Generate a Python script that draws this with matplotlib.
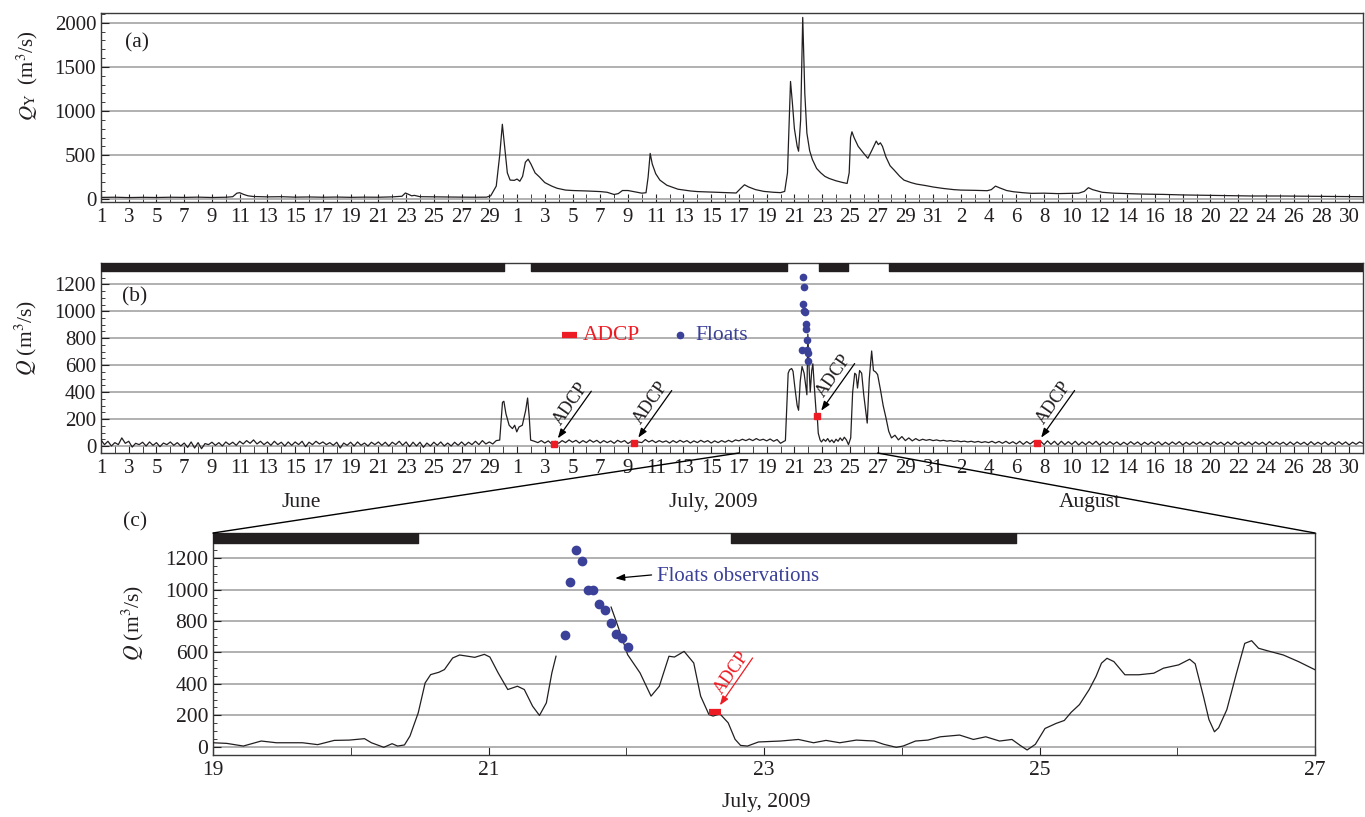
import numpy as np
import matplotlib
matplotlib.use("Agg")
import matplotlib.pyplot as plt
from matplotlib.patches import ConnectionPatch

plt.rcParams['font.family'] = ['Liberation Serif', 'DejaVu Serif']
plt.rcParams['mathtext.fontset'] = 'stix'

# ---- time axis of (a) and (b): days since 1 June 2009 ----
ab_ticks = list(range(0, 91, 2))
ab_ticklabels = ['1', '3', '5', '7', '9', '11', '13', '15', '17', '19', '21', '23', '25', '27', '29',
                 '1', '3', '5', '7', '9', '11', '13', '15', '17', '19', '21', '23', '25', '27', '29', '31',
                 '2', '4', '6', '8', '10', '12', '14', '16', '18', '20', '22', '24', '26', '28', '30']

# ---- (a) upstream discharge Q_Y ----
qy_day = [0, 1, 2, 3, 4, 5, 6, 7, 8, 9, 9.5, 9.8, 10.0, 10.3, 10.6, 11, 12, 13, 14, 15, 16, 17, 18, 19,
          20, 21, 21.7, 21.95, 22.2, 22.4, 22.6, 23, 24, 25, 26, 27, 27.8, 28.1, 28.5, 28.75, 28.94,
          29.1, 29.3, 29.5, 29.8, 30.0, 30.2, 30.4, 30.6, 30.8, 31.0, 31.3, 31.6, 32.0, 32.5, 32.9,
          33.5, 34, 35, 36, 36.5, 37.0, 37.3, 37.6, 38.0, 38.5, 39.0, 39.3, 39.45, 39.6, 39.75, 40.0,
          40.3, 40.8, 41.6, 42.5, 43.0, 44, 45, 45.8, 46.1, 46.4, 46.7, 47.2, 47.8, 48.5, 49.0, 49.3,
          49.5, 49.65, 49.72, 49.85, 50.0, 50.2, 50.3, 50.45, 50.6, 50.75, 50.9, 51.1, 51.3, 51.6,
          51.9, 52.2, 52.5, 53.0, 53.5, 53.8, 53.95, 54.05, 54.15, 54.3, 54.6, 55.0, 55.3, 55.6, 55.9,
          56.05, 56.2, 56.35, 56.6, 56.9, 57.2, 57.6, 57.9, 58.4, 58.8, 59.5, 60.0, 60.7, 61.5, 62.0,
          63.0, 63.9, 64.2, 64.5, 64.8, 65.3, 65.8, 66.5, 67.1, 68, 69, 70.0, 70.5, 70.9, 71.2, 71.5,
          72.2, 73, 74, 75, 76.6, 78, 80, 82, 83, 85, 87, 89, 91]
qy_val = [22, 24, 20, 23, 21, 24, 22, 25, 21, 24, 30, 70, 75, 55, 40, 32, 28, 30, 25, 27, 24, 26, 23, 25,
          24, 28, 35, 72, 55, 40, 45, 30, 28, 26, 25, 24, 25, 40, 150, 500, 850,
          600, 300, 218, 215, 230, 205, 260, 420, 455, 400, 300, 256, 190, 150, 125,
          105, 100, 95, 88, 80, 55, 65, 100, 100, 85, 70, 75, 250, 520, 400, 290,
          218, 160, 115, 95, 88, 82, 76, 72, 120, 165, 140, 110, 90, 80, 76, 90,
          300, 1000, 1335, 1100, 800, 600, 545, 900, 2060, 1200, 750, 550, 450, 350,
          300, 260, 237, 210, 190, 180, 300, 700, 765, 700, 600, 520, 465, 560, 660,
          620, 640, 600, 480, 380, 330, 260, 218, 190, 173, 155, 140, 124, 110, 105,
          102, 98, 110, 150, 130, 100, 86, 75, 68, 70, 65, 68, 70, 90, 132, 110,
          80, 70, 65, 60, 56, 50, 45, 40, 38, 38, 35, 32, 30]

# ---- (b) discharge Q, 6-hourly pieces and event pieces ----
b_june = [45, 10, 35, 0, 25, 10, 60, 20, 35, -8, 20, 10, 28, 0, 30, 5, 25, -5, 22, 10, 30, 5, 25, 0,
          22, -10, 30, -15, 25, -20, 18, 10, 28, 5, 25, 0, 30, 10, 28, 5, 35, 15, 40, 20, 45, 15, 35, 10,
          30, 5, 35, 10, 28, 0, 30, 5, 30, 10, 35, -5, 28, 10, 35, 15, 30, 10, 25, 5, 28, -15, 22, 5,
          28, 0, 30, 5, 22, 0, 28, 10, 30, 5, 28, 0, 28, 10, 35, 5, 30, -5, 28, 0, 28, -10, 22, 0,
          28, 5, 30, 0, 22, 0, 28, 5, 30, 5, 28, 10, 35, 10, 40, 15, 30, 15, 40]
ev1_day = [28.75, 28.95, 29.05, 29.2, 29.43, 29.67, 29.83, 29.98, 30.14, 30.38, 30.62, 30.76, 30.88, 30.98]
ev1_q = [44, 324, 332, 239, 154, 129, 154, 105, 141, 154, 263, 356, 215, 44]
b_july = [35, 25, 40,
          22, 38, 15, 35, 20, 40, 25, 45, 28, 42, 22, 40, 25, 45, 28, 42, 22, 40, 25, 38,
          20, 42, 28, 40, 18, 35, 15, 30, 25, 48, 30, 42, 25, 40, 28, 38, 22, 40, 25, 42,
          28, 40, 22, 38, 25, 42, 28, 40, 22, 38, 25, 40, 28, 42, 30, 45, 38, 50, 40, 52,
          40, 55, 42, 50, 38, 52, 35, 48, 20, 35]
ev2_day = [49.35, 49.45, 49.55, 49.65, 49.8, 49.9, 50.05, 50.2, 50.3, 50.42, 50.55, 50.7, 50.9, 50.97,
           51.04, 51.14, 51.25, 51.33, 51.45, 51.57, 51.65, 51.72, 51.85, 51.95, 52.1, 52.25, 52.4,
           52.55, 52.7, 52.85, 53.0, 53.15, 53.3, 53.45, 53.6, 53.75, 53.9, 54.06, 54.2, 54.35, 54.45,
           54.55, 54.7, 54.85, 55.0, 55.25, 55.4, 55.57, 55.7, 55.85, 56.0, 56.2, 56.4, 56.6, 56.8, 57.0]
ev2_q = [40, 300, 540, 565, 575, 555, 420, 300, 265, 480, 590, 540, 380, 830,
         620, 400, 560, 610, 420, 245, 215, 95, 45, 30, 50, 35, 55,
         30, 45, 25, 50, 35, 60, 40, 65, 45, 10, 60, 400, 540, 530,
         430, 560, 540, 380, 170, 500, 705, 560, 550, 530, 420, 300, 210, 110, 60]
b_aug = [80, 45, 70,
         40, 60, 38, 55, 40, 50, 42, 48, 40, 45, 38, 42, 36, 40, 34, 38, 32, 36, 30, 35,
         28, 34, 26, 32, 25, 35, 22, 34, 20, 35, 18, 32, 15, 35, 12, 33, 15, 35, 18, 35,
         10, 38, 12, 35, 8, 35, 10, 32, 12, 35, 8, 30, 10, 32, 12, 35, 8, 30, 10, 32,
         12, 30, 8, 28, 10, 32, 12, 30, 8, 28, 10, 30, 12, 32, 8, 28, 10, 30, 12, 32,
         8, 28, 10, 30, 12, 30, 8, 28, 10, 32, 12, 28, 8, 30, 10, 32, 12, 28, 8, 30,
         10, 30, 12, 28, 8, 32, 10, 30, 12, 28, 8, 30, 10, 30, 12, 28, 8, 32, 10, 28,
         12, 30, 8, 28, 10, 32, 12, 30, 8, 28, 12, 30, 20]

# periods marked by the black bars (start day, length)
b_bars = [(0, 29.05), (31.0, 18.49), (51.76, 2.07), (56.8, 34.2)]

# ADCP observations in (b)
adcp_day = [32.65, 38.45, 51.64, 67.5]
adcp_q = [15, 20, 220, 20]

# ---- (c) zoom, July days ----
c_day1 = [19.0, 19.1, 19.22, 19.35, 19.46, 19.65, 19.76, 19.88, 19.99, 20.1, 20.15, 20.24, 20.3, 20.34,
          20.39, 20.43, 20.49, 20.54, 20.58, 20.64, 20.68, 20.74, 20.79, 20.85, 20.9, 20.97, 21.01, 21.07,
          21.14, 21.21, 21.26, 21.32, 21.37, 21.42, 21.46, 21.49]
c_q1 = [25, 21, 4, 36, 25, 25, 13, 40, 42, 51, 25, -4, 19, 4, 11, 68, 216, 406, 459, 474, 491, 565, 584,
        576, 569, 588, 571, 470, 364, 385, 364, 258, 199, 279, 470, 576]
c_day2 = [21.89, 21.94, 22.01, 22.1, 22.18, 22.24, 22.31, 22.35, 22.42, 22.49, 22.54, 22.6, 22.63, 22.68,
          22.74, 22.79, 22.83, 22.88, 22.96, 23.12, 23.25, 23.36, 23.45, 23.55, 23.67, 23.8, 23.87, 23.96,
          24.01, 24.1, 24.19, 24.28, 24.42, 24.52, 24.61, 24.71, 24.8, 24.86, 24.91, 24.97, 25.04, 25.12,
          25.18, 25.23, 25.29, 25.36, 25.41, 25.45, 25.49, 25.54, 25.62, 25.72, 25.83, 25.9, 26.01, 26.09,
          26.13, 26.19, 26.23, 26.27, 26.3, 26.36, 26.43, 26.49, 26.54, 26.59, 26.65, 26.77, 26.88, 27.0]
c_q2 = [889, 766, 586, 470, 322, 385, 576, 571, 607, 533, 322, 205, 195, 209, 152, 47, 8, 4, 30, 36,
        46, 25, 40, 25, 42, 36, 15, -4, 4, 36, 42, 63, 74, 46, 63, 36, 46, 8, -21, 15,
        116, 148, 167, 219, 268, 363, 447, 532, 563, 542, 458, 458, 468, 500, 521, 557, 528, 321, 173, 95,
        120, 236, 468, 658, 675, 627, 612, 584, 542, 490]
c_bars = [(19.0, 1.49), (22.76, 2.07)]
c_ticks = [19, 21, 23, 25, 27]
c_minor = [20, 22, 24, 26]

# floats observations (July days)
float_day = [21.553, 21.594, 21.637, 21.681, 21.720, 21.761, 21.802, 21.846, 21.887, 21.926, 21.969, 22.013]
float_q = [713, 1051, 1253, 1180, 1000, 996, 906, 868, 785, 715, 690, 633]
adcp_c = (22.60, 22.69, 220)

july0 = 29  # July d -> day index d + 29

RED = '#ed1c24'
BLUE = '#3b4199'
INK = '#231f20'
GRID = '#a3a3a3'

W, H = 1365, 817
def box(l, t, r, b):
    return [l / W, 1 - b / H, (r - l) / W, (b - t) / H]
def px(x, y):
    return x / W, 1 - y / H

fig = plt.figure(figsize=(13.65, 8.17), dpi=100)
axa = fig.add_axes(box(101, 13, 1363, 202))
axb = fig.add_axes(box(101, 263, 1363, 453))
axc = fig.add_axes(box(213, 533, 1315, 755))

def style(ax, size=15):
    for s in ax.spines.values():
        s.set_color('#3a3a3a')
        s.set_linewidth(1.0)
    ax.tick_params(which='both', direction='in', labelsize=size, colors=INK, top=False, right=False)
    ax.tick_params(axis='y', which='major', length=6)
    ax.tick_params(axis='y', which='minor', length=3)
    ax.tick_params(axis='x', which='both', length=5.5, pad=4)
    ax.yaxis.grid(True, which='major', color=GRID, lw=1.2)
    ax.set_axisbelow(True)

for ax in (axa, axb):
    style(ax)
    ax.set_xlim(0, 91)
    ax.set_xticks(ab_ticks)
    ax.set_xticklabels(ab_ticklabels)
    ax.set_xticks(list(range(1, 91, 2)), minor=True)
style(axc, 15.5)

# (a)
axa.plot(qy_day, qy_val, color=INK, lw=0.9)
axa.set_ylim(-30, 2110)
axa.set_yticks([0, 500, 1000, 1500, 2000])
axa.set_yticks(list(range(0, 2101, 100)), minor=True)

# (b)
b_day = list(0.25 * np.arange(len(b_june))) + ev1_day + \
        list(31.25 + 0.25 * np.arange(len(b_july))) + ev2_day + \
        list(57.25 + 0.25 * np.arange(len(b_aug)))
b_q = b_june + ev1_q + b_july + ev2_q + b_aug
axb.plot(b_day, b_q, color=INK, lw=0.9, zorder=3)
axb.set_ylim(-52, 1358)
axb.set_yticks(list(range(0, 1201, 200)))
axb.set_yticks(list(range(0, 1351, 50)), minor=True)
axb.broken_barh(b_bars, (1300, 80), color=INK, zorder=4)
axb.plot([d + july0 for d in float_day], float_q, 'o', color=BLUE, ms=4.5, zorder=5)
axb.plot(adcp_day, adcp_q, 's', color=RED, ms=4.5, mec=RED, zorder=6)
for d, q in zip(adcp_day, adcp_q):
    axb.annotate('', xy=(d, q), xytext=(27, 38), textcoords='offset points',
                 arrowprops=dict(arrowstyle='-|>,head_length=0.55,head_width=0.2', color='k',
                                 lw=0.9, shrinkA=0, shrinkB=5), zorder=7)
    axb.annotate('ADCP', xy=(d, q), xytext=(12, 29), textcoords='offset points', rotation=55,
                 ha='center', va='center', fontsize=13, color=INK, zorder=7)
# legend of (b)
axb.plot([0.365, 0.377], [0.621, 0.621], color=RED, lw=4.5, transform=axb.transAxes, solid_capstyle='butt')
axb.text(0.382, 0.621, 'ADCP', color=RED, fontsize=15.5, va='center', ha='left', transform=axb.transAxes)
axb.plot([0.459], [0.621], 'o', color=BLUE, ms=4.5, transform=axb.transAxes)
axb.text(0.471, 0.621, 'Floats', color=BLUE, fontsize=15.5, va='center', ha='left', transform=axb.transAxes)

# (c)
axc.plot(c_day1, c_q1, color=INK, lw=0.9, zorder=3)
axc.plot(c_day2, c_q2, color=INK, lw=0.9, zorder=3)
axc.set_xlim(19, 27)
axc.set_ylim(-53, 1361)
axc.set_xticks(c_ticks)
axc.set_xticks(c_minor, minor=True)
axc.set_yticks(list(range(0, 1201, 200)))
axc.set_yticks(list(range(0, 1351, 50)), minor=True)
axc.broken_barh(c_bars, (1300, 80), color=INK, zorder=4)
axc.plot(float_day, float_q, 'o', color=BLUE, ms=6, zorder=5)
axc.plot(adcp_c[:2], [adcp_c[2]] * 2, color=RED, lw=4.5, solid_capstyle='butt', zorder=6)
axc.annotate('', xy=((adcp_c[0] + adcp_c[1]) / 2, adcp_c[2]), xytext=(27, 39), textcoords='offset points',
             arrowprops=dict(arrowstyle='-|>,head_length=0.55,head_width=0.2', color=RED,
                             lw=0.9, shrinkA=0, shrinkB=6))
axc.annotate('ADCP', xy=((adcp_c[0] + adcp_c[1]) / 2, adcp_c[2]), xytext=(12, 28), textcoords='offset points',
             rotation=55, ha='center', va='center', fontsize=13, color=RED)
axc.annotate('', xy=(0.365, 0.796), xytext=(0.398, 0.811), xycoords='axes fraction',
             arrowprops=dict(arrowstyle='-|>,head_length=0.55,head_width=0.2', color='k',
                             lw=0.9, shrinkA=0, shrinkB=0))
axc.text(0.403, 0.806, 'Floats observations', color=BLUE, fontsize=15, va='center', ha='left',
         transform=axc.transAxes)

# zoom connectors from (b) to (c)
for xb, xc in ((46.0, 0.0), (56.0, 1.0)):
    con = ConnectionPatch(xyA=(xb, -52), coordsA=axb.transData, xyB=(xc, 1.0), coordsB=axc.transAxes,
                          color='k', lw=1.0)
    fig.add_artist(con)

# texts
fig.text(*px(27, 76), r'$Q_{\mathrm{Y}}$  (m$^3$/s)', rotation=90, ha='center', va='center', fontsize=15, color=INK)
fig.text(*px(26, 338), r'$Q$ (m$^3$/s)', rotation=90, ha='center', va='center', fontsize=15.5, color=INK)
fig.text(*px(133, 623), r'$Q$ (m$^3$/s)', rotation=90, ha='center', va='center', fontsize=15.5, color=INK)
fig.text(*px(137, 43), '(a)', ha='center', va='center', fontsize=15.5, color=INK)
fig.text(*px(135, 297), '(b)', ha='center', va='center', fontsize=15.5, color=INK)
fig.text(*px(135, 522), '(c)', ha='center', va='center', fontsize=15.5, color=INK)
fig.text(*px(301, 503), 'June', ha='center', va='center', fontsize=15.5, color=INK)
fig.text(*px(713, 503), 'July, 2009', ha='center', va='center', fontsize=15.5, color=INK)
fig.text(*px(1090, 503), 'August', ha='center', va='center', fontsize=15.5, color=INK)
fig.text(*px(766, 803), 'July, 2009', ha='center', va='center', fontsize=15.5, color=INK)

fig.savefig('out.png', dpi=100)
